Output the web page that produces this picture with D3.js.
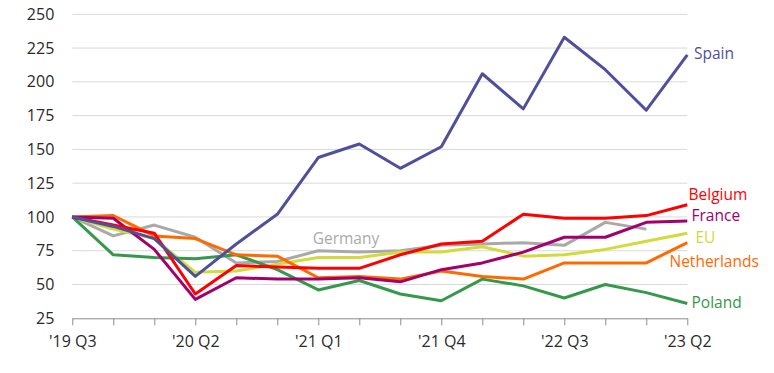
<!DOCTYPE html>
<html>
<head>
<meta charset="utf-8">
<script src="https://cdn.jsdelivr.net/npm/d3@7"></script>
<style>
  body { margin: 0; background: #fff; }
  svg { display: block; font-family: "Open Sans", sans-serif; }
</style>
</head>
<body>
<svg width="774" height="373"></svg>
<script>
// quarters, '19 Q3 .. '23 Q2
const quarters = ["'19 Q3", "'19 Q4", "'20 Q1", "'20 Q2", "'20 Q3", "'20 Q4",
  "'21 Q1", "'21 Q2", "'21 Q3", "'21 Q4", "'22 Q1", "'22 Q2",
  "'22 Q3", "'22 Q4", "'23 Q1", "'23 Q2"];
const yTicks = [25, 50, 75, 100, 125, 150, 175, 200, 225, 250];

const germany = [100, 86, 94, 85, 66, 67, 75, 74, 75, 79, 80, 81, 79, 96, 91];
const eu = [100, 91, 84, 59, 60, 65, 70, 70, 74, 74, 78, 71, 72, 76, 82, 88];
const poland = [100, 72, 70, 69, 72, 61, 46, 53, 43, 38, 54, 49, 40, 50, 44, 36];
const netherlands = [100, 101, 86, 84, 72, 71, 55, 56, 54, 60, 56, 54, 66, 66, 66, 81];
const france = [100, 99, 76, 39, 55, 54, 54, 55, 52, 61, 66, 74, 85, 85, 96, 97];
const belgium = [100, 94, 88, 43, 64, 63, 62, 62, 72, 80, 82, 102, 99, 99, 101, 109];
const spain = [100, 93, 84, 56, 80, 102, 144, 154, 136, 152, 206, 180, 233, 209, 179, 220];

const series = [
  { name: 'Germany', values: germany, color: '#a9a9a9' },
  { name: 'EU', values: eu, color: '#d2da3c' },
  { name: 'Poland', values: poland, color: '#36984a' },
  { name: 'Netherlands', values: netherlands, color: '#ff6a00' },
  { name: 'France', values: france, color: '#a3006c' },
  { name: 'Belgium', values: belgium, color: '#ff0000' },
  { name: 'Spain', values: spain, color: '#4f4f9c' },
];

const svg = d3.select('svg');

const x = d3.scalePoint().domain(quarters).range([72.3, 687.3]);
const y = d3.scaleLinear().domain([25, 250]).range([318.3, 14.3]);

// gridlines
svg.append('g')
  .selectAll('line')
  .data(yTicks.slice(1))
  .enter()
  .append('line')
  .attr('x1', 72.3)
  .attr('x2', 687.3)
  .attr('y1', (d) => y(d))
  .attr('y2', (d) => y(d))
  .attr('stroke', '#d9d9d9')
  .attr('stroke-width', 1);

// y axis labels
const yAxis = svg.append('g')
  .attr('transform', 'translate(72.3,0)')
  .call(d3.axisLeft(y).tickValues(yTicks).tickSize(0).tickPadding(18));
yAxis.select('.domain').remove();
yAxis.selectAll('text')
  .attr('font-size', 16)
  .attr('font-family', '"Open Sans", sans-serif')
  .attr('fill', '#2a2a2a');

// x axis, a tick per quarter, label every third
const xAxis = svg.append('g')
  .attr('transform', 'translate(0,318.3)')
  .call(d3.axisBottom(x).tickSizeOuter(0).tickSizeInner(7).tickPadding(10)
    .tickFormat((d, i) => (i % 3 === 0 ? d : '')));
xAxis.select('.domain').attr('stroke', '#8c8c8c');
xAxis.selectAll('.tick line').attr('stroke', '#8c8c8c');
xAxis.selectAll('text')
  .attr('font-size', 16)
  .attr('font-family', '"Open Sans", sans-serif')
  .attr('fill', '#2a2a2a');

// lines
const line = d3.line()
  .x((d, i) => x(quarters[i]))
  .y((d) => y(d));

svg.append('g')
  .selectAll('path')
  .data(series)
  .enter()
  .append('path')
  .attr('d', (d) => line(d.values))
  .attr('fill', 'none')
  .attr('stroke', (d) => d.color)
  .attr('stroke-width', 3)
  .attr('stroke-linejoin', 'round');

// direct labels (right-hand ones are packed tight, nudged apart a little)
const labelPos = {
  Germany: [312.7, 244],
  EU: [695.5, 242.5],
  Poland: [691.5, 307.5],
  Netherlands: [669.5, 267],
  France: [691.5, 221],
  Belgium: [688.5, 199.5],
  Spain: [694, 59],
};

svg.append('g')
  .selectAll('text')
  .data(series)
  .enter()
  .append('text')
  .attr('x', (d) => labelPos[d.name][0])
  .attr('y', (d) => labelPos[d.name][1])
  .attr('font-size', 15.5)
  .attr('fill', (d) => d.color)
  .text((d) => d.name);
</script>
</body>
</html>
